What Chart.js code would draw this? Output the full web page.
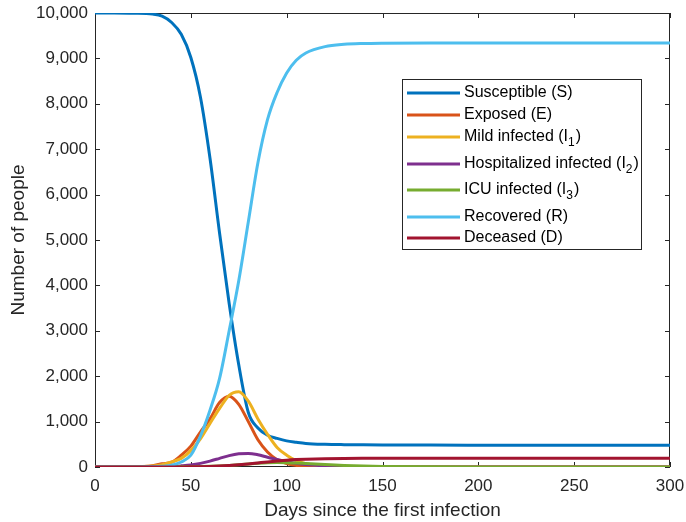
<!DOCTYPE html>
<html>
<head>
<meta charset="utf-8">
<title>SEIR model</title>
<script src="https://cdn.jsdelivr.net/npm/chart.js@4/dist/chart.umd.min.js"></script>
<style>
    html, body { margin: 0; padding: 0; background: #ffffff; }
    canvas { display: block; }
</style>
</head>
<body>
<canvas id="seirChart" width="686" height="522"></canvas>
<script>

// DATA

const days = [0, 10, 20, 30, 35, 40, 45, 50, 55, 60, 65, 70, 75, 80, 85, 90, 95, 100, 105, 110, 120, 130, 140, 150, 175, 200, 250, 300];

const susceptible = [10000, 10000, 9995, 9975, 9930, 9790, 9530, 9020, 8150, 6800, 5150, 3600, 2250, 1200, 860, 700, 630, 575, 545, 520, 500, 492, 488, 485, 482, 481, 480, 480];

const exposed = [0, 2, 5, 30, 70, 105, 260, 460, 770, 1060, 1420, 1560, 1380, 1000, 600, 330, 160, 75, 35, 15, 3, 0, 0, 0, 0, 0, 0, 0];

const mildInfected = [0, 1, 5, 20, 50, 110, 190, 360, 620, 960, 1290, 1580, 1660, 1450, 1060, 720, 430, 260, 140, 75, 20, 5, 0, 0, 0, 0, 0, 0];

const hospitalized = [0, 0, 1, 3, 6, 10, 25, 45, 80, 130, 190, 250, 290, 300, 270, 215, 165, 115, 80, 55, 25, 10, 4, 1, 0, 0, 0, 0];

const icuInfected = [0, 0, 0, 1, 2, 3, 4, 6, 10, 15, 24, 35, 50, 65, 80, 92, 98, 95, 87, 76, 55, 35, 22, 13, 3, 0, 0, 0];

const recovered = [0, 0, 1, 5, 15, 40, 110, 260, 680, 1250, 1950, 3000, 4100, 5400, 6700, 7650, 8250, 8680, 8960, 9120, 9260, 9310, 9328, 9335, 9340, 9340, 9340, 9340];

const deceased = [0, 0, 0, 0, 1, 1, 2, 3, 6, 12, 20, 32, 48, 68, 90, 112, 132, 150, 163, 172, 183, 189, 192, 194, 195, 195, 195, 195];

const seriesLabels = ["Susceptible (S)", "Exposed (E)", "Mild infected (I_1)", "Hospitalized infected (I_2)", "ICU infected (I_3)", "Recovered (R)", "Deceased (D)"];

const seriesColors = ["#0072BD", "#D95319", "#EDB120", "#7E2F8E", "#77AC30", "#4DBEEE", "#A2142F"];

const seriesValues = [susceptible, exposed, mildInfected, hospitalized, icuInfected, recovered, deceased];


// FONTS

const fontFamily = '"Liberation Sans", Arial, Helvetica, sans-serif';
const textColor = "#262626";

Chart.defaults.font.family = fontFamily;
Chart.defaults.color = textColor;


// BOX AND INWARD TICKS (matlab style)

const axesBox = {

    id: "axesBox",

    beforeDatasetsDraw(chart) {

        const { ctx, chartArea: a, scales } = chart;

        ctx.save();
        ctx.strokeStyle = textColor;
        ctx.lineWidth = 1;

        ctx.strokeRect(a.left + 0.5, a.top + 0.5, a.width - 1, a.height - 1);

        const tickLen = 5;

        ctx.beginPath();

        scales.x.ticks.forEach((t) => {
            const px = Math.round(scales.x.getPixelForValue(t.value)) + 0.5;
            ctx.moveTo(px, a.bottom);
            ctx.lineTo(px, a.bottom - tickLen);
            ctx.moveTo(px, a.top);
            ctx.lineTo(px, a.top + tickLen);
        });

        scales.y.ticks.forEach((t) => {
            const py = Math.round(scales.y.getPixelForValue(t.value)) + 0.5;
            ctx.moveTo(a.left, py);
            ctx.lineTo(a.left + tickLen, py);
            ctx.moveTo(a.right, py);
            ctx.lineTo(a.right - tickLen, py);
        });

        ctx.stroke();
        ctx.restore();
    }
};


// LEGEND BOX (drawn by hand, text with subscripts)

const legendRows = [93, 115, 137, 164, 190, 217, 238];

const legendBox = {

    id: "legendBox",

    afterDatasetsDraw(chart) {

        const ctx = chart.ctx;

        const left = 402, top = 79, right = 642, bottom = 250;

        ctx.save();

        ctx.fillStyle = "#ffffff";
        ctx.fillRect(left, top, right - left, bottom - top);
        ctx.strokeStyle = textColor;
        ctx.lineWidth = 1;
        ctx.strokeRect(left + 0.5, top + 0.5, right - left - 1, bottom - top - 1);

        chart.data.datasets.forEach((ds, i) => {

            const y = legendRows[i];

            ctx.strokeStyle = ds.borderColor;
            ctx.lineWidth = 3;
            ctx.beginPath();
            ctx.moveTo(407, y);
            ctx.lineTo(460, y);
            ctx.stroke();

            ctx.fillStyle = "#000000";
            ctx.textBaseline = "middle";
            ctx.textAlign = "left";

            const m = ds.label.match(/^(.*)_(\d)(.*)$/);

            let x = 464;

            if (m) {
                ctx.font = "16px " + fontFamily;
                ctx.fillText(m[1], x, y);
                x += ctx.measureText(m[1]).width;
                ctx.font = "12px " + fontFamily;
                ctx.fillText(m[2], x, y + 6);
                x += ctx.measureText(m[2]).width + 1;
                ctx.font = "16px " + fontFamily;
                ctx.fillText(m[3], x, y);
            } else {
                ctx.font = "16px " + fontFamily;
                ctx.fillText(ds.label, x, y);
            }
        });

        ctx.restore();
    }
};


// DATASETS

const datasets = seriesValues.map((values, i) => ({

    label: seriesLabels[i],

    data: days.map((d, j) => ({ x: d, y: values[j] })),

    borderColor: seriesColors[i],

    backgroundColor: seriesColors[i],

    borderWidth: 3,

    pointRadius: 0,

    cubicInterpolationMode: "monotone",

    fill: false,

    order: seriesValues.length - i
}));


// CREATE CHART

new Chart(document.getElementById("seirChart"), {

    type: "line",

    data: { datasets },

    options: {

        responsive: false,
        devicePixelRatio: 1,
        animation: false,

        layout: {
            padding: { left: 0, top: 13, right: 16, bottom: 0 }
        },

        plugins: {
            legend: { display: false },
            tooltip: { enabled: false }
        },

        scales: {

            x: {
                type: "linear",
                min: 0,
                max: 300,
                grid: { display: false, drawTicks: false },
                border: { display: false },
                ticks: {
                    stepSize: 50,
                    padding: 9,
                    maxRotation: 0,
                    font: { size: 17 },
                    color: textColor
                },
                title: {
                    display: true,
                    text: "Days since the first infection",
                    font: { size: 19 },
                    color: textColor,
                    padding: { top: 0, bottom: 0 }
                },
                afterFit(scale) {
                    scale.height = 55;
                    scale.paddingLeft = 0;
                    scale.paddingRight = 0;
                }
            },

            y: {
                type: "linear",
                min: 0,
                max: 10000,
                grid: { display: false, drawTicks: false },
                border: { display: false },
                ticks: {
                    stepSize: 1000,
                    padding: 7,
                    font: { size: 17 },
                    color: textColor,
                    callback: (v) => v.toLocaleString("en-US")
                },
                title: {
                    display: true,
                    text: "Number of people",
                    font: { size: 19 },
                    color: textColor,
                    padding: { top: 7, bottom: 0 }
                },
                afterFit(scale) {
                    scale.width = 95;
                    scale.paddingTop = 0;
                    scale.paddingBottom = 0;
                }
            }
        }
    },

    plugins: [axesBox, legendBox]
});

</script>
</body>
</html>
